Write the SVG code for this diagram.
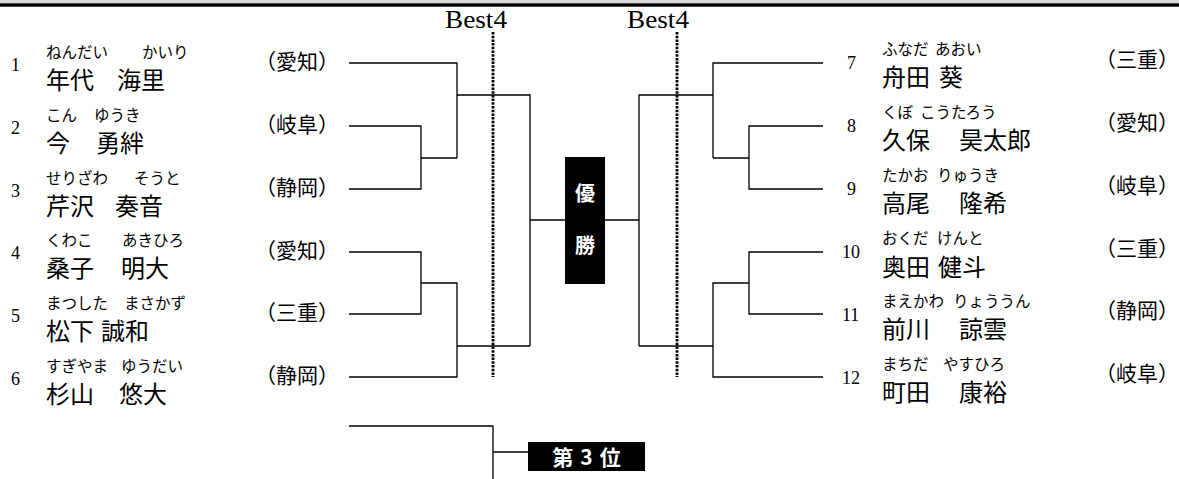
<svg xmlns="http://www.w3.org/2000/svg" width="1179" height="479" viewBox="0 0 1179 479">
<style>
.num{font-family:"Liberation Serif",serif;font-size:18px;fill:#000}
.furi{font-family:"Noto Sans CJK JP",sans-serif;font-size:15.5px;fill:#000}
.name{font-family:"Noto Sans CJK JP",sans-serif;font-size:24px;fill:#000}
.pref{font-family:"Noto Sans CJK JP",sans-serif;font-size:21px;fill:#000}
.best{font-family:"Liberation Serif",serif;font-size:25px;fill:#000}
.ln{stroke:#000;stroke-width:1.3;fill:none}
.dot{stroke:#000;stroke-width:2.8;stroke-dasharray:2.5 1.2;fill:none}
.wt{font-family:"Noto Sans CJK JP",sans-serif;font-weight:bold;fill:#fff}
</style>
<rect x="0" y="0" width="1179" height="479" fill="#fff"/>
<rect x="0" y="0" width="1179" height="3.3" fill="#d9d9d9"/>
<rect x="0" y="3.3" width="1179" height="3.4" fill="#000"/>
<g id="labels">
<text class="best" x="445" y="28" textLength="62" lengthAdjust="spacingAndGlyphs">Best4</text>
<text class="best" x="627" y="28" textLength="62" lengthAdjust="spacingAndGlyphs">Best4</text>
</g>
<g id="connectors">
<path class="ln" d="M349,63H457V158M349,126H421V189H349M421,158H457M457,95H530V346M349,252H421V314H349M421,283H457V377H349M457,346H530"/>
<path class="ln" d="M530,220H565M605,220H639"/>
<path class="ln" d="M823,63H713V158M823,126H749V189H823M749,158H713M713,95H639V346M823,252H749V314H823M749,283H713V377H823M713,346H639"/>
<path class="ln" d="M349,426H493V479M493,452H528"/>
<path class="dot" d="M493,32V377M677,32V377"/>
</g>
<g id="champion">
<rect x="565" y="157" width="40" height="127" fill="#000"/>
<text class="wt" x="585" y="201" font-size="20" text-anchor="middle">優</text>
<text class="wt" x="585" y="253" font-size="20" text-anchor="middle">勝</text>
</g>
<g id="third">
<rect x="528" y="442" width="117" height="29" fill="#000"/>
<text class="wt" x="590" y="465" font-size="21" text-anchor="middle" letter-spacing="7">第3位</text>
</g>
<g id="p1"><text class="num" x="11" y="71">1</text><text class="furi" x="46" y="58">ねんだい</text><text class="furi" x="142" y="58">かいり</text><text class="name" x="46" y="89">年代</text><text class="name" x="117" y="89">海里</text><text class="pref" x="255" y="69">（愛知）</text></g>
<g id="p2"><text class="num" x="11" y="134">2</text><text class="furi" x="46" y="121">こん</text><text class="furi" x="94" y="121">ゆうき</text><text class="name" x="46" y="152">今</text><text class="name" x="96" y="152">勇絆</text><text class="pref" x="255" y="132">（岐阜）</text></g>
<g id="p3"><text class="num" x="11" y="197">3</text><text class="furi" x="46" y="184">せりざわ</text><text class="furi" x="134" y="184">そうと</text><text class="name" x="46" y="215">芹沢</text><text class="name" x="115" y="215">奏音</text><text class="pref" x="255" y="195">（静岡）</text></g>
<g id="p4"><text class="num" x="11" y="259">4</text><text class="furi" x="46" y="246">くわこ</text><text class="furi" x="122" y="246">あきひろ</text><text class="name" x="46" y="277">桑子</text><text class="name" x="121" y="277">明大</text><text class="pref" x="255" y="258">（愛知）</text></g>
<g id="p5"><text class="num" x="11" y="322">5</text><text class="furi" x="46" y="309">まつした</text><text class="furi" x="124" y="309">まさかず</text><text class="name" x="46" y="340">松下</text><text class="name" x="101" y="340">誠和</text><text class="pref" x="255" y="320">（三重）</text></g>
<g id="p6"><text class="num" x="11" y="385">6</text><text class="furi" x="46" y="372">すぎやま</text><text class="furi" x="121" y="372">ゆうだい</text><text class="name" x="46" y="403">杉山</text><text class="name" x="119" y="403">悠大</text><text class="pref" x="255" y="383">（静岡）</text></g>
<g id="p7"><text class="num" x="847" y="69">7</text><text class="furi" x="882" y="55">ふなだ</text><text class="furi" x="935" y="55">あおい</text><text class="name" x="882" y="86">舟田</text><text class="name" x="939" y="86">葵</text><text class="pref" x="1095" y="67">（三重）</text></g>
<g id="p8"><text class="num" x="847" y="132">8</text><text class="furi" x="882" y="118">くぼ</text><text class="furi" x="920" y="118">こうたろう</text><text class="name" x="882" y="149">久保</text><text class="name" x="959" y="149">昊太郎</text><text class="pref" x="1095" y="130">（愛知）</text></g>
<g id="p9"><text class="num" x="847" y="195">9</text><text class="furi" x="882" y="181">たかお</text><text class="furi" x="937" y="181">りゅうき</text><text class="name" x="882" y="212">高尾</text><text class="name" x="959" y="212">隆希</text><text class="pref" x="1095" y="193">（岐阜）</text></g>
<g id="p10"><text class="num" x="842" y="258">10</text><text class="furi" x="882" y="244">おくだ</text><text class="furi" x="937" y="244">けんと</text><text class="name" x="882" y="276">奥田</text><text class="name" x="938" y="276">健斗</text><text class="pref" x="1095" y="256">（三重）</text></g>
<g id="p11"><text class="num" x="842" y="321">11</text><text class="furi" x="882" y="307">まえかわ</text><text class="furi" x="953" y="307">りょううん</text><text class="name" x="882" y="338">前川</text><text class="name" x="959" y="338">諒雲</text><text class="pref" x="1095" y="318">（静岡）</text></g>
<g id="p12"><text class="num" x="842" y="384">12</text><text class="furi" x="882" y="370">まちだ</text><text class="furi" x="943" y="370">やすひろ</text><text class="name" x="882" y="401">町田</text><text class="name" x="959" y="401">康裕</text><text class="pref" x="1095" y="381">（岐阜）</text></g>
</svg>
